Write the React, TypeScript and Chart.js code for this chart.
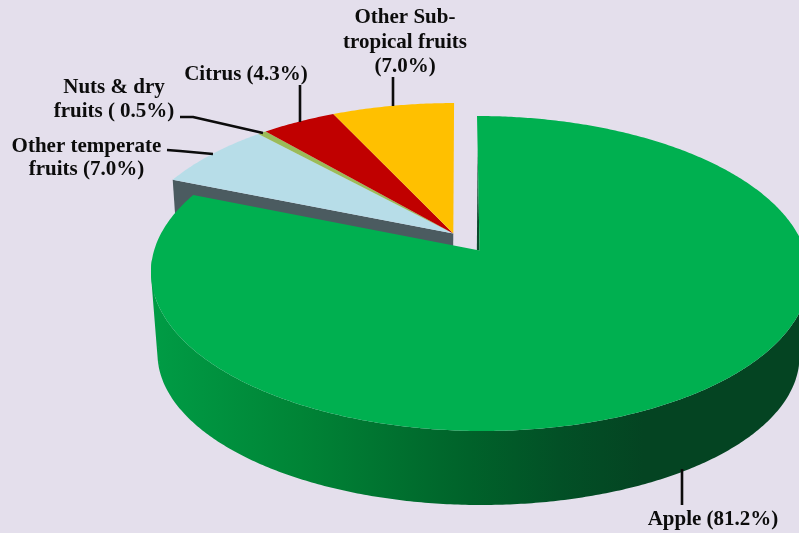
import { useEffect, useRef } from "react";
import { Chart, registerables } from "chart.js";

Chart.register(...registerables);

// Share of fruit area by group, clockwise from twelve o'clock.
const categories = ["Apple", "Other temperate fruits", "Nuts & dry fruits", "Citrus", "Other Sub-tropical fruits"];
const shares = [81.2, 7.0, 0.5, 4.3, 7.0];
const topColors = ["#00B050", "#B7DDE8", "#9BBB59", "#C00000", "#FFC000"];

const BACKGROUND = "#E4DFEC";
const INK = "#0c0c0c";
const FONT = 'bold 21px "Liberation Serif", serif';

// Callouts: centred text lines with their baselines, and the leader line of each.
const calloutLines = [
  { x: 713, lines: [["Apple (81.2%)", 525]] },
  { x: 86.5, lines: [["Other temperate", 152], ["fruits (7.0%)", 175]] },
  { x: 114, lines: [["Nuts & dry", 93], ["fruits ( 0.5%)", 117]] },
  { x: 246, lines: [["Citrus (4.3%)", 80]] },
  { x: 405, lines: [["Other Sub-", 23], ["tropical fruits", 48], ["(7.0%)", 72]] },
];
const leaders = [
  [[682, 469], [682, 505]],
  [[167, 150], [180, 151], [213, 154]],
  [[180, 117], [193, 117], [263, 133]],
  [[300, 85], [300, 122]],
  [[393, 77], [393, 106]],
];

// The minor slices are pulled away from the apple slice as one group.
const pullU = [0, -0.081, -0.081, -0.081, -0.081];
const pullV = [0, -0.112, -0.112, -0.112, -0.112];

// Perspective of the disc: the near half looks bigger, so the pivot sits above the ellipse centre.
const TILT = -0.146;
const topPlane = { cx: 480, cy: 273.5, rx: 329, ry: 157.5, skew: 3 };
const basePlane = { cx: 478.5, cy: 355, rx: 321, ry: 150, skew: 3 };

type Plane = typeof topPlane;
type Pt = [number, number];

function project(p: Plane, u: number, v: number): Pt {
  const w = 1 + TILT * v;
  const b = (v + TILT) / w;
  const a = (u * Math.sqrt(1 - TILT * TILT)) / w;
  return [p.cx + p.rx * a + p.skew * b, p.cy + p.ry * b];
}

function rimPoints(p: Plane, start: number, end: number, du: number, dv: number) {
  const count = Math.max(2, Math.ceil((end - start) / 0.01));
  const pts: Pt[] = [];
  for (let i = 0; i <= count; i++) {
    const t = start + ((end - start) * i) / count;
    pts.push(project(p, Math.cos(t) + du, Math.sin(t) + dv));
  }
  return pts;
}

function tracePolygon(ctx: CanvasRenderingContext2D, pts: Pt[]) {
  pts.forEach(([x, y], i) => (i ? ctx.lineTo(x, y) : ctx.moveTo(x, y)));
  ctx.closePath();
}

function fillPolygon(ctx: CanvasRenderingContext2D, pts: Pt[], fill: string | CanvasGradient) {
  ctx.beginPath();
  tracePolygon(ctx, pts);
  ctx.fillStyle = fill;
  ctx.fill();
}

// Same winding for every quad, so the non-zero fill gives their plain union.
function clockwise(q: Pt[]): Pt[] {
  let area = 0;
  q.forEach(([x, y], i) => {
    const [nx, ny] = q[(i + 1) % q.length];
    area += x * ny - nx * y;
  });
  return area < 0 ? [...q].reverse() : q;
}

const disc3d = {
  id: "disc3d",
  beforeDatasetsDraw(chart: any) {
    const ctx: CanvasRenderingContext2D = chart.ctx;
    const arcs = chart.getDatasetMeta(0).data;
    const colors = chart.data.datasets[0].backgroundColor;

    ctx.save();
    // Cut face of the first minor slice, mostly hidden behind the apple slice.
    const first = arcs[1];
    const du1 = pullU[1];
    const dv1 = pullV[1];
    const edgeU = Math.cos(first.startAngle) + du1;
    const edgeV = Math.sin(first.startAngle) + dv1;
    fillPolygon(ctx, [
      project(topPlane, du1, dv1),
      project(topPlane, edgeU, edgeV),
      project(basePlane, edgeU, edgeV),
      project(basePlane, du1, dv1),
    ], "#4B5B60");

    // Top faces of the minor slices.
    for (let i = 1; i < arcs.length; i++) {
      const a = arcs[i];
      fillPolygon(ctx, [project(topPlane, pullU[i], pullV[i]), ...rimPoints(topPlane, a.startAngle, a.endAngle, pullU[i], pullV[i])], colors[i]);
    }

    // Apple slice: narrow strip of its back cut face, curved wall, then its top.
    const apple = arcs[0];
    const tip = project(topPlane, 0, 0);
    fillPolygon(ctx, [project(topPlane, 0, -0.72), tip, [tip[0] - 2.7, tip[1]]], "#0A4A2B");

    const wall = ctx.createLinearGradient(152, 0, 799, 0);
    wall.addColorStop(0, "#009C45");
    wall.addColorStop(0.23, "#008436");
    wall.addColorStop(0.49, "#00622A");
    wall.addColorStop(0.63, "#025026");
    wall.addColorStop(0.76, "#044422");
    wall.addColorStop(1, "#044422");
    const upper = rimPoints(topPlane, apple.startAngle, apple.endAngle, 0, 0);
    const lower = rimPoints(basePlane, apple.startAngle, apple.endAngle, 0, 0);
    ctx.beginPath();
    for (let i = 0; i < upper.length - 1; i++) {
      if (upper[i][1] < 260) continue;
      tracePolygon(ctx, clockwise([upper[i], upper[i + 1], lower[i + 1], lower[i]]));
    }
    ctx.fillStyle = wall;
    ctx.fill();
    fillPolygon(ctx, [tip, ...upper], colors[0]);
    ctx.restore();
    return false;
  },
  afterDraw(chart: any) {
    const ctx: CanvasRenderingContext2D = chart.ctx;
    ctx.save();
    ctx.strokeStyle = INK;
    ctx.lineWidth = 2.6;
    ctx.lineJoin = "round";
    leaders.forEach((path) => {
      ctx.beginPath();
      path.forEach(([x, y], i) => (i ? ctx.lineTo(x, y) : ctx.moveTo(x, y)));
      ctx.stroke();
    });
    ctx.fillStyle = INK;
    ctx.font = FONT;
    ctx.textAlign = "center";
    ctx.textBaseline = "alphabetic";
    calloutLines.forEach(({ x, lines }) => {
      lines.forEach(([text, y]) => ctx.fillText(text as string, x, y as number));
    });
    ctx.restore();
  },
};

export default function App() {
  const ref = useRef<HTMLCanvasElement>(null);

  useEffect(() => {
    document.body.style.margin = "0";
    const chart = new Chart(ref.current!, {
      type: "pie",
      data: {
        labels: categories,
        datasets: [{ data: shares, backgroundColor: topColors, borderWidth: 0 }],
      },
      options: {
        animation: false,
        responsive: false,
        plugins: { legend: { display: false }, tooltip: { enabled: false } },
      },
      plugins: [disc3d],
    });
    return () => chart.destroy();
  }, []);

  return (
    <div style={{ width: 799, height: 533, background: BACKGROUND, overflow: "hidden" }}>
      <canvas ref={ref} width={799} height={533} style={{ display: "block" }} />
    </div>
  );
}
